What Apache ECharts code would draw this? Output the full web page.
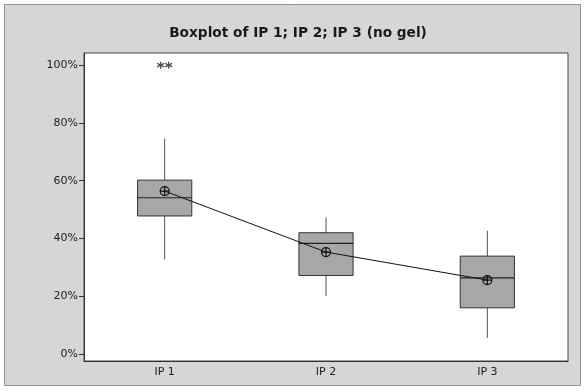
<!DOCTYPE html>
<html>
<head>
<meta charset="utf-8">
<script src="https://cdn.jsdelivr.net/npm/echarts@6/dist/echarts.min.js"></script>
<style>
html,body{margin:0;padding:0;background:#fff;}
#c{width:585px;height:391px;}
</style>
</head>
<body>
<div id="c"></div>
<script>
var categories = ['IP 1', 'IP 2', 'IP 3'];
var whiskerLow = [32.8, 20.1, 5.6];
var q1 = [47.8, 27.2, 16.0];
var median = [54.1, 38.3, 26.4];
var q3 = [60.2, 42.0, 33.9];
var whiskerHigh = [74.6, 47.3, 42.7];
var means = [56.4, 35.3, 25.6];
var outliers = [[0, 100, -4], [0, 100, 4]];
var yTicks = [0, 20, 40, 60, 80, 100];

var boxData = categories.map(function (c, i) {
  return [i, whiskerLow[i], q1[i], median[i], q3[i], whiskerHigh[i]];
});

var chart = echarts.init(document.getElementById('c'));
var FONT = 'DejaVu Sans';
chart.setOption({
  animation: false,
  backgroundColor: '#ffffff',
  graphic: [{
    type: 'rect', z: -10, silent: true,
    shape: { x: 4.5, y: 4.5, width: 576, height: 381 },
    style: { fill: '#d5d6d8', stroke: '#8f96a3', lineWidth: 1 }
  }],
  title: {
    text: 'Boxplot of IP 1; IP 2; IP 3 (no gel)',
    left: 293, textAlign: 'center', top: 21,
    textStyle: { fontFamily: FONT, fontSize: 13.7, fontWeight: 'bold', color: '#1a1a1a' }
  },
  grid: {
    left: 84, right: 17, top: 53, bottom: 30,
    show: true, backgroundColor: '#ffffff', borderColor: '#444', borderWidth: 1
  },
  xAxis: {
    type: 'category', data: categories, boundaryGap: true,
    axisLine: { onZero: false, lineStyle: { color: '#333', width: 1 } },
    axisTick: { alignWithLabel: true, length: 3, lineStyle: { color: '#333' } },
    axisLabel: { fontFamily: FONT, fontSize: 11, color: '#222', margin: 6 },
    splitLine: { show: false }
  },
  yAxis: {
    type: 'value', min: -2.4, max: 104.2,
    axisLine: { show: true, lineStyle: { color: '#333', width: 1 } },
    axisTick: { show: true, length: 5, customValues: yTicks, lineStyle: { color: '#333' } },
    axisLabel: {
      customValues: yTicks, fontFamily: FONT, fontSize: 11, color: '#222', margin: 6,
      formatter: function (v) { return Math.round(v) + '%'; }
    },
    splitLine: { show: false }
  },
  series: [
    {
      type: 'custom',
      data: boxData,
      encode: { x: 0, y: [1, 2, 3, 4, 5] },
      renderItem: function (params, api) {
        var x = api.value(0);
        var pLow = api.coord([x, api.value(1)]);
        var pQ1 = api.coord([x, api.value(2)]);
        var pMed = api.coord([x, api.value(3)]);
        var pQ3 = api.coord([x, api.value(4)]);
        var pHigh = api.coord([x, api.value(5)]);
        var bw = api.size([1, 0])[0] * 0.336;
        var cx = pQ1[0];
        return {
          type: 'group',
          children: [
            { type: 'line', shape: { x1: cx, y1: pHigh[1], x2: cx, y2: pQ3[1] }, style: { stroke: '#555', lineWidth: 1 } },
            { type: 'line', shape: { x1: cx, y1: pQ1[1], x2: cx, y2: pLow[1] }, style: { stroke: '#555', lineWidth: 1 } },
            { type: 'rect', shape: { x: cx - bw / 2, y: pQ3[1], width: bw, height: pQ1[1] - pQ3[1] }, style: { fill: '#a7a7a7', stroke: '#333', lineWidth: 1 } },
            { type: 'line', shape: { x1: cx - bw / 2, y1: pMed[1], x2: cx + bw / 2, y2: pMed[1] }, style: { stroke: '#222', lineWidth: 1.2 } }
          ]
        };
      },
      z: 2
    },
    {
      type: 'line',
      data: means,
      symbol: 'path://M0,-10A10,10 0 1,1 0,10A10,10 0 1,1 0,-10ZM-10,0L10,0M0,-10L0,10',
      symbolSize: 9,
      showSymbol: true,
      lineStyle: { color: '#111', width: 1 },
      itemStyle: { color: 'rgba(0,0,0,0)', borderColor: '#111', borderWidth: 1.2 },
      z: 3
    },
    {
      type: 'scatter',
      data: outliers.map(function (o) { return { value: [o[0], o[1]], symbolOffset: [o[2], 0] }; }),
      symbol: 'path://M0,-10L0,10M-8.7,-5L8.7,5M-8.7,5L8.7,-5',
      symbolSize: 7,
      itemStyle: { color: 'rgba(0,0,0,0)', borderColor: '#222', borderWidth: 1.3 },
      z: 4
    }
  ]
});
</script>
</body>
</html>
